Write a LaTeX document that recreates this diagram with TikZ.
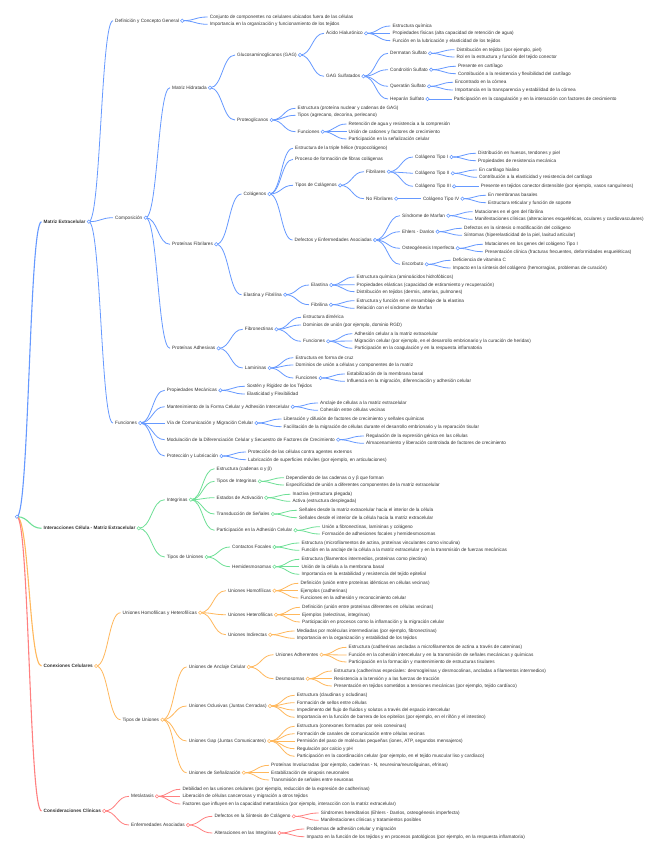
\documentclass[tikz,border=0pt]{standalone}
\usepackage{fontspec}
\setmainfont{Liberation Sans}
\usetikzlibrary{calc,backgrounds}
\definecolor{cB}{RGB}{102,153,255}
\definecolor{cG}{RGB}{110,224,150}
\definecolor{cO}{RGB}{255,184,92}
\definecolor{cR}{RGB}{255,128,128}
\definecolor{tc}{RGB}{51,51,51}
\tikzset{
 txt/.style={anchor=west,inner ysep=0pt,inner xsep=2pt,text=tc,font=\fontsize{4.7}{5}\selectfont,text height=3.5pt,text depth=0.5pt},
 txtb/.style={txt,font=\fontsize{4.7}{5}\selectfont\bfseries},
 dot/.style={circle,inner sep=0pt,minimum size=3.4pt,line width=0.55pt,fill=white},
 lk/.style={line width=0.8pt,to path={let \p1=(\tikztostart),\p2=(\tikztotarget) in .. controls ({0.5*\x1+0.5*\x2},\y1) and ({0.5*\x1+0.5*\x2},\y2) .. (\tikztotarget)}},
 lwa/.style={line width=1.1pt}
}
\newcommand\Lf[4]{\node[txt] (#1) at ({#2-2},#3) {#4};}
\newcommand\Pn[5]{\node[txt] (#1) at ({#2-2},#3) {#4};\node[dot,draw=#5] (#1c) at ([xshift=1.1pt]#1.east) {};}
\newcommand\Pb[5]{\node[txtb] (#1) at ({#2-2},#3) {#4};\node[dot,draw=#5] (#1c) at ([xshift=1.1pt]#1.east) {};}
\newcommand\Lk[3]{\foreach \ch in {#3}{\draw[lk,#1] (#2c.center) to (\ch.west);}}
\begin{document}
\begin{tikzpicture}[x=1pt,y=-1pt]
\useasboundingbox (0,0) rectangle (659,848);
\node[dot,draw=cB] (rootc) at (16.9,516.7) {};
% ---------------- blue branch
\Pb{ME}{43.5}{221.7}{Matriz Extracelular}{cB}
\Pn{DEF}{115}{20.7}{Definición y Concepto General}{cB}
\Lf{def1}{209.7}{17}{Conjunto de componentes no celulares ubicados fuera de las células}
\Lf{def2}{209.7}{24.3}{Importancia en la organización y funcionamiento de los tejidos}
\Pn{COMP}{115}{217.7}{Composición}{cB}
\Pn{MH}{172}{87.7}{Matriz Hidratada}{cB}
\Pn{GAG}{237}{55}{Glucosaminoglicanos (GAG)}{cB}
\Pn{AH}{326}{33.3}{Ácido Hialurónico}{cB}
\Lf{ah1}{392.4}{26}{Estructura química}
\Lf{ah2}{392.4}{33.3}{Propiedades físicas (alta capacidad de retención de agua)}
\Lf{ah3}{392.4}{40.7}{Función en la lubricación y elasticidad de los tejidos}
\Pn{GS}{326}{76.3}{GAG Sulfatados}{cB}
\Pn{DS}{390}{53.3}{Dermatan Sulfato}{cB}
\Lf{ds1}{456.5}{49.7}{Distribución en tejidos (por ejemplo, piel)}
\Lf{ds2}{456.5}{57}{Rol en la estructura y función del tejido conector}
\Pn{CS}{390}{69.7}{Condroitín Sulfato}{cB}
\Lf{cs1}{457.8}{66.3}{Presente en cartílago}
\Lf{cs2}{457.8}{73.7}{Contribución a la resistencia y flexibilidad del cartílago}
\Pn{QS}{390}{86.3}{Queratán Sulfato}{cB}
\Lf{qs1}{455}{82.3}{Encontrado en la córnea}
\Lf{qs2}{455}{90}{Importancia en la transparencia y estabilidad de la córnea}
\Pn{HS}{390}{99}{Heparán Sulfato}{cB}
\Lf{hs1}{453.6}{99}{Participación en la coagulación y en la interacción con factores de crecimiento}
\Pn{PG}{237}{120}{Proteoglicanos}{cB}
\Lf{pg1}{297.5}{108.3}{Estructura (proteína nuclear y cadenas de GAG)}
\Lf{pg2}{297.5}{115.3}{Tipos (agrecano, decorina, perlecano)}
\Pn{PGF}{297.5}{131.7}{Funciones}{cB}
\Lf{pgf1}{348.5}{124}{Retención de agua y resistencia a la compresión}
\Lf{pgf2}{348.5}{131.7}{Unión de cationes y factores de crecimiento}
\Lf{pgf3}{348.5}{139}{Participación en la señalización celular}
\Pn{PF}{172}{244.3}{Proteínas Fibrilares}{cB}
\Pn{COL}{243.5}{194}{Colágenos}{cB}
\Lf{col1}{295}{148.3}{Estructura de la triple hélice (tropocolágeno)}
\Lf{col2}{295}{159.3}{Proceso de formación de fibras colágenas}
\Pn{TC}{295}{185.3}{Tipos de Colágenos}{cB}
\Pn{FIB}{366}{171.7}{Fibrilares}{cB}
\Pn{CTa}{415}{157}{Colágeno Tipo I}{cB}
\Lf{cta1}{478}{153.3}{Distribución en huesos, tendones y piel}
\Lf{cta2}{478}{160.7}{Propiedades de resistencia mecánica}
\Pn{CTb}{415}{173.3}{Colágeno Tipo II}{cB}
\Lf{ctb1}{479}{170}{En cartílago hialino}
\Lf{ctb2}{479}{177.3}{Contribución a la elasticidad y resistencia del cartílago}
\Pn{CTc}{415}{186.3}{Colágeno Tipo III}{cB}
\Lf{ctc1}{480.6}{186.3}{Presente en tejidos conector distensible (por ejemplo, vasos sanguíneos)}
\Pn{NFIB}{366}{198.7}{No Fibrilares}{cB}
\Pn{CTd}{422.8}{198.7}{Colágeno Tipo IV}{cB}
\Lf{ctd1}{488}{195.3}{En membranas basales}
\Lf{ctd2}{488}{202.7}{Estructura reticular y función de soporte}
\Pn{DEA}{294.5}{240}{Defectos y Enfermedades Asociadas}{cB}
\Pn{SM}{402}{215.7}{Síndrome de Marfan}{cB}
\Lf{sm1}{474.7}{211.7}{Mutaciones en el gen del fibrilina}
\Lf{sm2}{474.7}{219.3}{Manifestaciones clínicas (alteraciones esqueléticas, oculares y cardiovasculares)}
\Pn{ED}{402}{231.7}{Ehlers - Danlos}{cB}
\Lf{ed1}{464}{228.3}{Defectos en la síntesis o modificación del colágeno}
\Lf{ed2}{464}{235.3}{Síntomas (hiperelasticidad de la piel, laxitud articular)}
\Pn{OI}{402}{248.3}{Osteogénesis Imperfecta}{cB}
\Lf{oi1}{484.8}{244.3}{Mutaciones en los genes del colágeno Tipo I}
\Lf{oi2}{484.8}{251.7}{Presentación clínica (fracturas frecuentes, deformidades esqueléticas)}
\Pn{ESC}{402}{264.3}{Escorbuto}{cB}
\Lf{esc1}{452.7}{260.3}{Deficiencia de vitamina C}
\Lf{esc2}{452.7}{268}{Impacto en la síntesis del colágeno (hemorragias, problemas de curación)}
\Pn{EF}{243.5}{294.7}{Elastina y Fibrilina}{cB}
\Pn{EL}{311}{285}{Elastina}{cB}
\Lf{el1}{356.5}{277}{Estructura química (aminoácidos hidrofóbicos)}
\Lf{el2}{356.5}{284.7}{Propiedades elásticas (capacidad de estiramiento y recuperación)}
\Lf{el3}{356.5}{291.7}{Distribución en tejidos (dermis, arterias, pulmones)}
\Pn{FBL}{311}{304.7}{Fibrilina}{cB}
\Lf{fbl1}{356.5}{300.7}{Estructura y función en el ensamblaje de la elastina}
\Lf{fbl2}{356.5}{308.3}{Relación con el síndrome de Marfan}
\Pn{PA}{172}{348.3}{Proteínas Adhesivas}{cB}
\Pn{FN}{244.7}{329.3}{Fibronectinas}{cB}
\Lf{fn1}{303}{317.3}{Estructura dimérica}
\Lf{fn2}{303}{325}{Dominios de unión (por ejemplo, dominio RGD)}
\Pn{FNF}{303}{341.3}{Funciones}{cB}
\Lf{fnf1}{354.4}{333.7}{Adhesión celular a la matriz extracelular}
\Lf{fnf2}{354.4}{341}{Migración celular (por ejemplo, en el desarrollo embrionario y la curación de heridas)}
\Lf{fnf3}{354.4}{348.3}{Participación en la coagulación y en la respuesta inflamatoria}
\Pn{LAM}{244.7}{368}{Lamininas}{cB}
\Lf{lam1}{295.4}{357.7}{Estructura en forma de cruz}
\Lf{lam2}{295.4}{365}{Dominios de unión a células y componentes de la matriz}
\Pn{LAMF}{295.4}{378}{Funciones}{cB}
\Lf{lamf1}{346.8}{374}{Estabilización de la membrana basal}
\Lf{lamf2}{346.8}{381.3}{Influencia en la migración, diferenciación y adhesión celular}
\Pn{FUN}{115}{423}{Funciones}{cB}
\Pn{PM}{166.7}{390.3}{Propiedades Mecánicas}{cB}
\Lf{pm1}{246.8}{386.3}{Sostén y Rigidez de los Tejidos}
\Lf{pm2}{246.8}{394}{Elasticidad y Flexibilidad}
\Pn{MF}{166.7}{406.7}{Mantenimiento de la Forma Celular y Adhesión Intercelular}{cB}
\Lf{mf1}{320}{403}{Anclaje de células a la matriz extracelular}
\Lf{mf2}{320}{410.3}{Cohesión entre células vecinas}
\Pn{VC}{166.7}{423}{Vía de Comunicación y Migración Celular}{cB}
\Lf{vc1}{283.5}{419}{Liberación y difusión de factores de crecimiento y señales químicas}
\Lf{vc2}{283.5}{426.7}{Facilitación de la migración de células durante el desarrollo embrionario y la reparación tisular}
\Pn{MD}{166.7}{439.7}{Modulación de la Diferenciación Celular y Secuestro de Factores de Crecimiento}{cB}
\Lf{md1}{366}{436}{Regulación de la expresión génica en las células}
\Lf{md2}{366}{443.3}{Almacenamiento y liberación controlada de factores de crecimiento}
\Pn{PL}{166.7}{456}{Protección y Lubricación}{cB}
\Lf{pl1}{248}{452}{Protección de las células contra agentes externos}
\Lf{pl2}{248}{459.7}{Lubricación de superficies móviles (por ejemplo, en articulaciones)}
% ---------------- green branch
\Pb{IC}{43.5}{528.3}{Interacciones Célula - Matriz Extracelular}{cG}
\Pn{INT}{166.7}{499.7}{Integrinas}{cG}
\Lf{int1}{216.5}{468.7}{Estructura (cadenas α y β)}
\Pn{TI}{216.5}{481.3}{Tipos de Integrinas}{cG}
\Lf{ti1}{286}{477.7}{Dependiendo de las cadenas α y β que forman}
\Lf{ti2}{286}{485}{Especificidad de unión a diferentes componentes de la matriz extracelular}
\Pn{EA}{216.5}{497.7}{Estados de Activación}{cG}
\Lf{ea1}{292.4}{494.3}{Inactiva (estructura plegada)}
\Lf{ea2}{292.4}{501.3}{Activa (estructura desplegada)}
\Pn{TS}{216.5}{514}{Transducción de Señales}{cG}
\Lf{ts1}{299}{510.3}{Señales desde la matriz extracelular hacia el interior de la célula}
\Lf{ts2}{299}{517.7}{Señales desde el interior de la célula hacia la matriz extracelular}
\Pn{PAC}{216.5}{530.3}{Participación en la Adhesión Celular}{cG}
\Lf{pac1}{322}{526.7}{Unión a fibronectinas, lamininas y colágeno}
\Lf{pac2}{322}{534}{Formación de adhesiones focales y hemidesmosomas}
\Pn{TU}{166.7}{557}{Tipos de Uniones}{cG}
\Pn{CF}{232}{547}{Contactos Focales}{cG}
\Lf{cf1}{301.3}{543}{Estructura (microfilamentos de actina, proteínas vinculantes como vinculina)}
\Lf{cf2}{301.3}{550.3}{Función en la anclaje de la célula a la matriz extracelular y en la transmisión de fuerzas mecánicas}
\Pn{HD}{232}{566.7}{Hemidesmosomas}{cG}
\Lf{hd1}{301.3}{559.3}{Estructura (filamentos intermedios, proteínas como plectina)}
\Lf{hd2}{301.3}{566.7}{Unión de la célula a la membrana basal}
\Lf{hd3}{301.3}{574.3}{Importancia en la estabilidad y resistencia del tejido epitelial}
% ---------------- orange branch
\Pb{CC}{43.5}{666}{Conexiones Celulares}{cO}
\Pn{UHH}{122.5}{612.7}{Uniones Homofílicas y Heterofílicas}{cO}
\Pn{UHO}{227.8}{590.7}{Uniones Homofílicas}{cO}
\Lf{uho1}{300.4}{583.3}{Definición (unión entre proteínas idénticas en células vecinas)}
\Lf{uho2}{300.4}{590.7}{Ejemplos (cadherinas)}
\Lf{uho3}{300.4}{598}{Funciones en la adhesión y reconocimiento celular}
\Pn{UHE}{227.8}{614.7}{Uniones Heterofílicas}{cO}
\Lf{uhe1}{302}{607.3}{Definición (unión entre proteínas diferentes en células vecinas)}
\Lf{uhe2}{302}{614.7}{Ejemplos (selectinas, integrinas)}
\Lf{uhe3}{302}{622}{Participación en procesos como la inflamación y la migración celular}
\Pn{UI}{227.8}{634.7}{Uniones Indirectas}{cO}
\Lf{ui1}{296.6}{631}{Mediadas por moléculas intermediarias (por ejemplo, fibronectinas)}
\Lf{ui2}{296.6}{638.3}{Importancia en la organización y estabilidad de los tejidos}
\Pn{TUB}{122.5}{719.7}{Tipos de Uniones}{cO}
\Pn{UAC}{188.6}{667}{Uniones de Anclaje Celular}{cO}
\Pn{UA}{275.5}{654.7}{Uniones Adherentes}{cO}
\Lf{ua1}{348.5}{647.3}{Estructura (cadherinas ancladas a microfilamentos de actina a través de cateninas)}
\Lf{ua2}{348.5}{655}{Función en la cohesión intercelular y en la transmisión de señales mecánicas y químicas}
\Lf{ua3}{348.5}{662}{Participación en la formación y mantenimiento de estructuras tisulares}
\Pn{DES}{275.5}{678.7}{Desmosomas}{cO}
\Lf{des1}{333.8}{671}{Estructura (cadherinas especiales: desmogleínas y desmocolinas, ancladas a filamentos intermedios)}
\Lf{des2}{333.8}{678.7}{Resistencia a la tensión y a las fuerzas de tracción}
\Lf{des3}{333.8}{686}{Presentación en tejidos sometidos a tensiones mecánicas (por ejemplo, tejido cardíaco)}
\Pn{UO}{188.6}{706}{Uniones Oclusivas (Juntas Cerradas)}{cO}
\Lf{uo1}{296.6}{695.3}{Estructura (claudinas y ocludinas)}
\Lf{uo2}{296.6}{702.7}{Formación de sellos entre células}
\Lf{uo3}{296.6}{710}{Impedimento del flujo de fluidos y solutos a través del espacio intercelular}
\Lf{uo4}{296.6}{717.3}{Importancia en la función de barrera de los epitelios (por ejemplo, en el riñón y el intestino)}
\Pn{UG}{188.6}{741}{Uniones Gap (Juntas Comunicantes)}{cO}
\Lf{ug1}{296.6}{726.3}{Estructura (conexones formados por seis conexinas)}
\Lf{ug2}{296.6}{733.7}{Formación de canales de comunicación entre células vecinas}
\Lf{ug3}{296.6}{741}{Permisión del paso de moléculas pequeñas (iones, ATP, segundos mensajeros)}
\Lf{ug4}{296.6}{748.7}{Regulación por calcio y pH}
\Lf{ug5}{296.6}{756.3}{Participación en la coordinación celular (por ejemplo, en el tejido muscular liso y cardíaco)}
\Pn{US}{188.6}{772.7}{Uniones de Señalización}{cO}
\Lf{us1}{271}{765.3}{Proteínas Involucradas (por ejemplo, caderinas - N, neurexina/neuroliguinas, efrinas)}
\Lf{us2}{271}{772.7}{Estabilización de sinapsis neuronales}
\Lf{us3}{271}{780}{Transmisión de señales entre neuronas}
% ---------------- red branch
\Pb{CCL}{43.5}{811}{Consideraciones Clínicas}{cR}
\Pn{MET}{131}{796.3}{Metástasis}{cR}
\Lf{met1}{182.3}{789.3}{Debilidad en las uniones celulares (por ejemplo, reducción de la expresión de cadherinas)}
\Lf{met2}{182.3}{796.3}{Liberación de células cancerosas y migración a otros tejidos}
\Lf{met3}{182.3}{804}{Factores que influyen en la capacidad metastásica (por ejemplo, interacción con la matriz extracelular)}
\Pn{ENF}{131}{825}{Enfermedades Asociadas}{cR}
\Pn{DSC}{214.3}{816.3}{Defectos en la Síntesis de Colágeno}{cR}
\Lf{dsc1}{320.7}{813}{Síndromes hereditarios (Ehlers - Danlos, osteogénesis imperfecta)}
\Lf{dsc2}{320.7}{820.3}{Manifestaciones clínicas y tratamientos posibles}
\Pn{AI}{214.3}{833}{Alteraciones en las Integrinas}{cR}
\Lf{ai1}{306.3}{829}{Problemas de adhesión celular y migración}
\Lf{ai2}{306.3}{836.7}{Impacto en la función de los tejidos y en procesos patológicos (por ejemplo, en la respuesta inflamatoria)}
% ---------------- links
\begin{pgfonlayer}{background}
\fill[white] (0,0) rectangle (659,848);
\Lk{cB,lwa}{root}{ME}
\Lk{cG,lwa}{root}{IC}
\Lk{cO,lwa}{root}{CC}
\Lk{cR,lwa}{root}{CCL}
\Lk{cB}{ME}{DEF,COMP,FUN}
\Lk{cB}{DEF}{def1,def2}
\Lk{cB}{COMP}{MH,PF,PA}
\Lk{cB}{MH}{GAG,PG}
\Lk{cB}{GAG}{AH,GS}
\Lk{cB}{AH}{ah1,ah2,ah3}
\Lk{cB}{GS}{DS,CS,QS,HS}
\Lk{cB}{DS}{ds1,ds2}
\Lk{cB}{CS}{cs1,cs2}
\Lk{cB}{QS}{qs1,qs2}
\Lk{cB}{HS}{hs1}
\Lk{cB}{PG}{pg1,pg2,PGF}
\Lk{cB}{PGF}{pgf1,pgf2,pgf3}
\Lk{cB}{PF}{COL,EF}
\Lk{cB}{COL}{col1,col2,TC,DEA}
\Lk{cB}{TC}{FIB,NFIB}
\Lk{cB}{FIB}{CTa,CTb,CTc}
\Lk{cB}{CTa}{cta1,cta2}
\Lk{cB}{CTb}{ctb1,ctb2}
\Lk{cB}{CTc}{ctc1}
\Lk{cB}{NFIB}{CTd}
\Lk{cB}{CTd}{ctd1,ctd2}
\Lk{cB}{DEA}{SM,ED,OI,ESC}
\Lk{cB}{SM}{sm1,sm2}
\Lk{cB}{ED}{ed1,ed2}
\Lk{cB}{OI}{oi1,oi2}
\Lk{cB}{ESC}{esc1,esc2}
\Lk{cB}{EF}{EL,FBL}
\Lk{cB}{EL}{el1,el2,el3}
\Lk{cB}{FBL}{fbl1,fbl2}
\Lk{cB}{PA}{FN,LAM}
\Lk{cB}{FN}{fn1,fn2,FNF}
\Lk{cB}{FNF}{fnf1,fnf2,fnf3}
\Lk{cB}{LAM}{lam1,lam2,LAMF}
\Lk{cB}{LAMF}{lamf1,lamf2}
\Lk{cB}{FUN}{PM,MF,VC,MD,PL}
\Lk{cB}{PM}{pm1,pm2}
\Lk{cB}{MF}{mf1,mf2}
\Lk{cB}{VC}{vc1,vc2}
\Lk{cB}{MD}{md1,md2}
\Lk{cB}{PL}{pl1,pl2}
\Lk{cG}{IC}{INT,TU}
\Lk{cG}{INT}{int1,TI,EA,TS,PAC}
\Lk{cG}{TI}{ti1,ti2}
\Lk{cG}{EA}{ea1,ea2}
\Lk{cG}{TS}{ts1,ts2}
\Lk{cG}{PAC}{pac1,pac2}
\Lk{cG}{TU}{CF,HD}
\Lk{cG}{CF}{cf1,cf2}
\Lk{cG}{HD}{hd1,hd2,hd3}
\Lk{cO}{CC}{UHH,TUB}
\Lk{cO}{UHH}{UHO,UHE,UI}
\Lk{cO}{UHO}{uho1,uho2,uho3}
\Lk{cO}{UHE}{uhe1,uhe2,uhe3}
\Lk{cO}{UI}{ui1,ui2}
\Lk{cO}{TUB}{UAC,UO,UG,US}
\Lk{cO}{UAC}{UA,DES}
\Lk{cO}{UA}{ua1,ua2,ua3}
\Lk{cO}{DES}{des1,des2,des3}
\Lk{cO}{UO}{uo1,uo2,uo3,uo4}
\Lk{cO}{UG}{ug1,ug2,ug3,ug4,ug5}
\Lk{cO}{US}{us1,us2,us3}
\Lk{cR}{CCL}{MET,ENF}
\Lk{cR}{MET}{met1,met2,met3}
\Lk{cR}{ENF}{DSC,AI}
\Lk{cR}{DSC}{dsc1,dsc2}
\Lk{cR}{AI}{ai1,ai2}
\end{pgfonlayer}
\end{tikzpicture}
\end{document}
